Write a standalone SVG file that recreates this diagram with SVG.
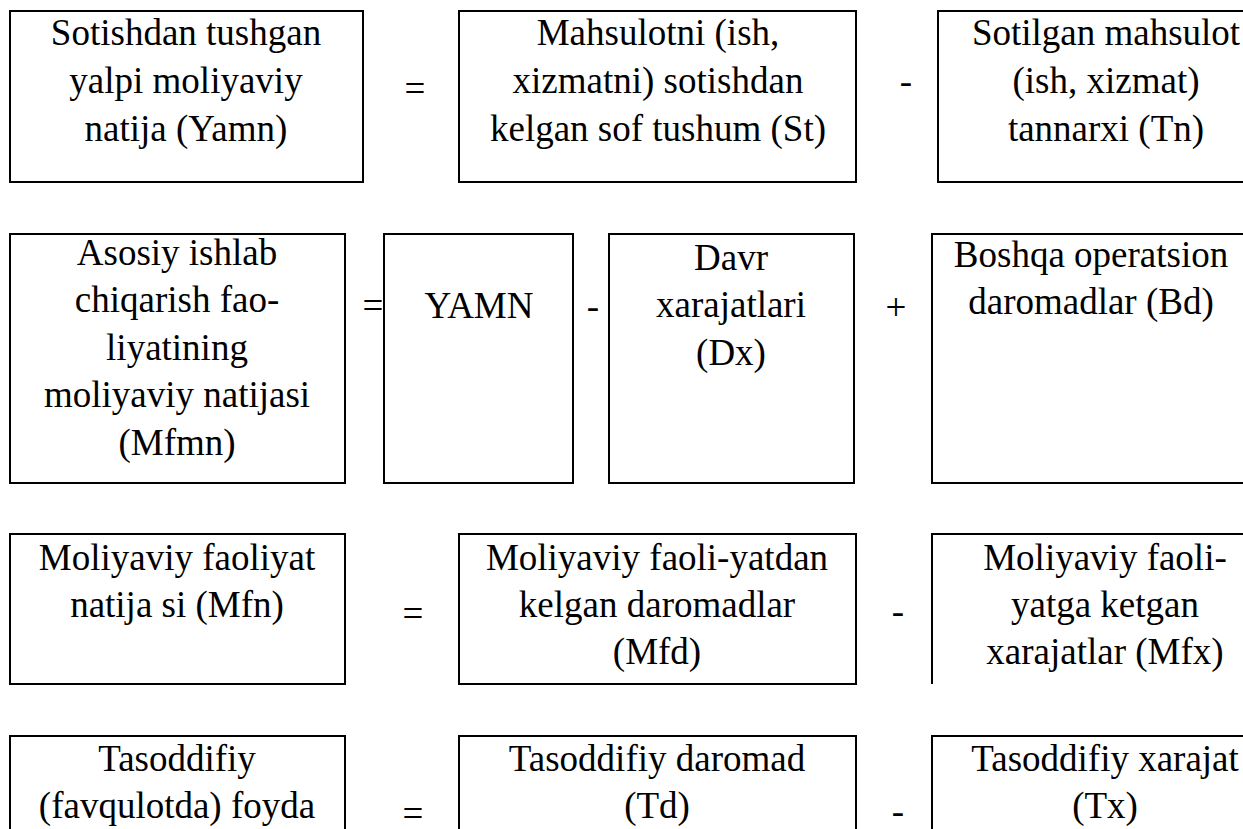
<svg xmlns="http://www.w3.org/2000/svg" width="1243" height="829" viewBox="0 0 1243 829">
<style>
.box{fill:#fff;stroke:#000;stroke-width:2}
.ln{fill:none;stroke:#000;stroke-width:2}
.t text{font-size:37px;fill:#000;text-anchor:middle}
</style>
<rect width="1243" height="829" fill="#fff"/>
<g class="t" font-family="Liberation Serif, Times New Roman, serif">
<g id="row1">
<g id="yamn"><rect class="box" x="10" y="11" width="353" height="171"/>
<text x="186" y="45">Sotishdan tushgan</text><text x="186" y="93">yalpi moliyaviy</text><text x="186" y="141">natija (Yamn)</text></g>
<g id="st"><rect class="box" x="459" y="11" width="397" height="171"/>
<text x="658" y="45">Mahsulotni (ish,</text><text x="658" y="93">xizmatni) sotishdan</text><text x="658" y="141">kelgan sof tushum (St)</text></g>
<g id="tn"><rect class="box" x="938" y="11" width="336" height="171"/>
<text x="1106" y="45">Sotilgan mahsulot</text><text x="1106" y="93">(ish, xizmat)</text><text x="1106" y="141">tannarxi (Tn)</text></g>
<g id="op1"><text x="415" y="101">=</text><text x="906" y="94">-</text></g>
</g>
<g id="row2">
<g id="mfmn"><rect class="box" x="10" y="234" width="335" height="249"/>
<text x="177" y="265">Asosiy ishlab</text><text x="177" y="312">chiqarish fao-</text><text x="177" y="360">liyatining</text><text x="177" y="407">moliyaviy natijasi</text><text x="177" y="455">(Mfmn)</text></g>
<g id="yamn2"><rect class="box" x="384" y="234" width="189" height="249"/>
<text x="479" y="318">YAMN</text></g>
<g id="dx"><rect class="box" x="609" y="234" width="245" height="249"/>
<text x="731" y="270">Davr</text><text x="731" y="317">xarajatlari</text><text x="731" y="365">(Dx)</text></g>
<g id="bd"><rect class="box" x="932" y="234" width="320" height="249"/>
<text x="1091" y="267">Boshqa operatsion</text><text x="1091" y="314">daromadlar (Bd)</text></g>
<g id="op2"><text x="373" y="318">=</text><text x="593" y="319">-</text><text x="896" y="320">+</text></g>
</g>
<g id="row3">
<g id="mfn"><rect class="box" x="10" y="534" width="335" height="150"/>
<text x="177" y="570">Moliyaviy faoliyat</text><text x="177" y="617">natija si (Mfn)</text></g>
<g id="mfd"><rect class="box" x="459" y="534" width="397" height="150"/>
<text x="657" y="570">Moliyaviy faoli-yatdan</text><text x="657" y="617">kelgan daromadlar</text><text x="657" y="664">(Mfd)</text></g>
<g id="mfx"><path class="ln" d="M932,684 V534 H1280"/>
<text x="1105" y="570">Moliyaviy faoli-</text><text x="1105" y="617">yatga ketgan</text><text x="1105" y="664">xarajatlar (Mfx)</text></g>
<g id="op3"><text x="413" y="626">=</text><text x="898" y="624">-</text></g>
</g>
<g id="row4">
<g id="tf"><rect class="box" x="10" y="736" width="335" height="120"/>
<text x="177" y="771">Tasoddifiy</text><text x="177" y="818">(favqulotda) foyda</text></g>
<g id="td"><rect class="box" x="459" y="736" width="397" height="120"/>
<text x="657" y="771">Tasoddifiy daromad</text><text x="657" y="818">(Td)</text></g>
<g id="tx"><rect class="box" x="932" y="736" width="346" height="120"/>
<text x="1105" y="771">Tasoddifiy xarajat</text><text x="1105" y="818">(Tx)</text></g>
<g id="op4"><text x="413" y="826">=</text><text x="898" y="824">-</text></g>
</g>
</g>
</svg>
